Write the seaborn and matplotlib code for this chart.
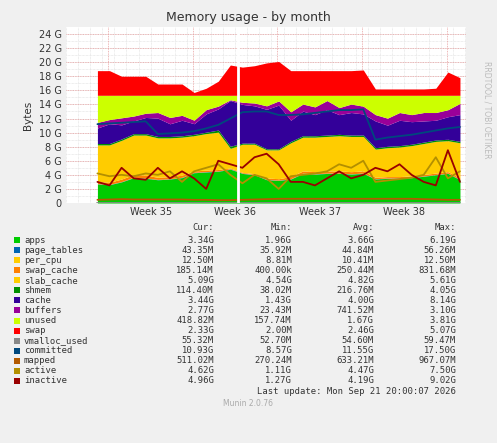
import numpy as np
import matplotlib
matplotlib.use("Agg")
import matplotlib.pyplot as plt
import seaborn as sns

sns.set_theme(style="white")
plt.rcParams['font.family'] = ['DejaVu Sans']

days = list(range(31))
apps = [2.7,2.6,3.0,3.6,3.5,3.3,3.4,3.6,4.3,4.4,4.5,4.8,4.2,4.0,3.3,3.2,3.4,4.2,4.1,4.2,4.2,4.1,4.2,3.4,3.5,3.5,3.6,3.8,4.0,4.2,3.3]
page_tables = [0.04,0.04,0.04,0.04,0.04,0.04,0.04,0.04,0.05,0.05,0.05,0.05,0.04,0.04,0.04,0.04,0.04,0.04,0.04,0.04,0.04,0.04,0.04,0.04,0.04,0.04,0.04,0.04,0.04,0.04,0.04]
per_cpu = [0.012]*31
swap_cache = [0.3,0.3,0.35,0.4,0.4,0.3,0.3,0.3,0.2,0.2,0.2,0.1,0.1,0.1,0.2,0.2,0.3,0.3,0.3,0.3,0.3,0.3,0.3,0.2,0.2,0.2,0.2,0.2,0.2,0.2,0.2]
slab_cache = [5.2,5.3,5.5,5.6,5.7,5.6,5.5,5.4,5.0,5.2,5.3,2.8,4.0,4.2,4.0,4.1,4.8,4.8,4.9,4.9,5.0,5.0,4.9,4.0,4.1,4.2,4.3,4.4,4.5,4.4,5.0]
shmem = [0.2,0.2,0.2,0.2,0.2,0.2,0.2,0.2,0.2,0.2,0.3,0.3,0.15,0.15,0.15,0.15,0.2,0.2,0.2,0.2,0.2,0.2,0.2,0.2,0.2,0.2,0.2,0.2,0.2,0.2,0.2]
cache = [2.2,2.8,2.0,1.8,2.3,2.6,1.8,2.2,1.5,2.6,3.0,6.5,5.5,5.3,5.6,6.2,3.0,3.5,3.0,3.6,2.8,3.2,3.0,3.8,3.0,3.6,3.2,3.0,2.8,3.2,3.8]
buffers = [0.8,0.6,1.0,0.7,0.6,0.8,0.9,0.7,0.5,0.6,0.4,0.1,0.3,0.4,0.5,0.6,1.2,1.0,1.1,1.3,1.0,1.2,1.1,0.9,1.0,1.1,1.0,1.2,1.1,1.0,1.6]
ram_total = [15.3]*31
swap = [3.5,3.5,2.7,2.7,2.7,1.6,1.6,1.6,0.4,1.0,2.0,4.3,4.0,4.2,4.6,4.8,3.5,3.5,3.5,3.5,3.5,3.5,3.6,0.9,0.9,0.9,0.9,0.9,1.0,3.3,2.5]
vmalloc_used = [0.055]*31
committed = [11.2,11.3,11.4,11.5,11.6,9.8,9.9,10.0,10.2,10.6,11.1,12.0,12.9,13.0,13.0,12.5,12.5,12.6,12.8,13.0,13.2,13.2,13.3,9.0,9.3,9.5,9.7,10.0,10.3,10.6,10.8]
mapped = [0.45,0.5,0.55,0.5,0.5,0.5,0.5,0.5,0.45,0.45,0.4,0.4,0.45,0.5,0.55,0.6,0.6,0.6,0.6,0.6,0.6,0.6,0.6,0.6,0.6,0.6,0.6,0.55,0.5,0.45,0.45]
active = [4.2,3.8,4.0,3.8,4.2,4.0,4.5,3.0,4.5,5.0,5.5,4.0,2.8,4.0,3.5,2.0,3.8,4.0,4.2,4.5,5.5,5.0,6.0,3.0,3.2,3.4,3.6,4.0,6.5,3.5,4.5]
inactive = [3.0,2.5,5.0,3.5,3.3,5.0,3.5,4.5,3.5,2.0,6.0,5.5,5.0,6.5,7.0,5.5,3.0,3.0,2.5,3.5,4.5,3.5,4.0,5.0,4.5,5.5,4.0,3.0,2.5,7.5,3.0]

names = ["apps","page_tables","per_cpu","swap_cache","slab_cache","shmem","cache","buffers","unused","swap",
         "vmalloc_used","committed","mapped","active","inactive"]
colors = ["#00CC00","#0066B3","#FFCC00","#FF8000","#FFCC00","#008F00","#330099","#990099","#CCFF00","#FF0000",
          "#888888","#00487D","#B35A00","#B38F00","#990000"]
cur = ["3.34G","43.35M","12.50M","185.14M","5.09G","114.40M","3.44G","2.77G","418.82M","2.33G","55.32M","10.93G","511.02M","4.62G","4.96G"]
mn = ["1.96G","35.92M","8.81M","400.00k","4.54G","38.02M","1.43G","23.43M","157.74M","2.00M","52.70M","8.57G","270.24M","1.11G","1.27G"]
avg = ["3.66G","44.84M","10.41M","250.44M","4.82G","216.76M","4.00G","741.52M","1.67G","2.46G","54.60M","11.55G","633.21M","4.47G","4.19G"]
mx = ["6.19G","56.26M","12.50M","831.68M","5.61G","4.05G","8.14G","3.10G","3.81G","5.07G","59.47M","17.50G","967.07M","7.50G","9.02G"]
week_labels = ["Week 35","Week 36","Week 37","Week 38"]

x = np.array(days, dtype=float)
lower = [apps,page_tables,per_cpu,swap_cache,slab_cache,shmem,cache,buffers]
unused = np.array(ram_total) - np.sum(np.array(lower), axis=0)
stack = lower + [unused, swap]

fig = plt.figure(figsize=(4.97,4.43), dpi=100, facecolor="#F0F0F0")
ax = fig.add_axes([66/497, (443-203)/443, 400/497, 176/443])
ax.set_facecolor("white")
ax.set_xlim(-2.6, 30.5)
ax.set_ylim(0, 25)
for d in np.arange(-2.6, 30.5, 1.0):
    ax.axvline(d, color="#DDDDDD", lw=0.5, ls=(0,(1,1)), zorder=0)
for v in np.arange(1, 25, 1):
    ax.axhline(v, color="#DDDDDD", lw=0.5, ls=(0,(1,1)), zorder=0)
for d in [0.9, 7.9, 14.9, 21.9, 28.9]:
    ax.axvline(d, color="#E8A0A0", lw=0.6, ls=(0,(1,1)), zorder=0)
for v in range(2, 25, 2):
    ax.axhline(v, color="#E8A0A0", lw=0.6, ls=(0,(1,1)), zorder=0)

ax.stackplot(x, *stack, colors=colors[:10], linewidth=0, zorder=2)
for vals, c in zip([vmalloc_used, committed, mapped, active, inactive], colors[10:]):
    sns.lineplot(x=x, y=vals, color=c, lw=1.3, ax=ax, zorder=3)
ax.axvline(11.6, color="white", lw=2, zorder=4)

ax.set_yticks(range(0, 25, 2))
ax.set_yticklabels(["0"] + [f"{v} G" for v in range(2, 25, 2)], fontsize=7, color="#333333")
ax.set_xticks([4.4, 11.4, 18.4, 25.4])
ax.set_xticklabels(week_labels, fontsize=7, color="#333333")
ax.tick_params(length=0, pad=3)
for s in ax.spines.values():
    s.set_visible(False)
ax.set_ylabel("Bytes", fontsize=7.5, color="#333333")

fig.text(248/497, 1-17/443, "Memory usage - by month", ha="center", va="center", fontsize=9, color="#333333")
fig.text(487/497, 1-110/443, "RRDTOOL / TOBI OETIKER", rotation=270, ha="center", va="center", fontsize=5.5, color="#BBBBBB")

def fy(py): return 1 - py/443
mono = "DejaVu Sans Mono"
fs = 6.4
for lab, px in zip(["Cur:","Min:","Avg:","Max:"], [214,292,374,456]):
    fig.text(px/497, fy(227), lab, ha="right", va="center", fontsize=fs, family=mono, color="#333333")
for i, n in enumerate(names):
    py = 240 + i*10.07
    fig.patches.append(plt.Rectangle((14/497, fy(py+3)), 6/497, 6/443, transform=fig.transFigure,
                                     facecolor=colors[i], edgecolor="none"))
    fig.text(24/497, fy(py), n, ha="left", va="center", fontsize=fs, family=mono, color="#333333")
    for val, px in zip([cur[i], mn[i], avg[i], mx[i]], [214,292,374,456]):
        fig.text(px/497, fy(py), val, ha="right", va="center", fontsize=fs, family=mono, color="#333333")
fig.text(456/497, fy(392), "Last update: Mon Sep 21 20:00:07 2026", ha="right", va="center", fontsize=fs, family=mono, color="#333333")
fig.text(248/497, fy(404), "Munin 2.0.76", ha="center", va="center", fontsize=5.5, color="#AAAAAA")

fig.savefig("out.png", dpi=100, facecolor=fig.get_facecolor())
